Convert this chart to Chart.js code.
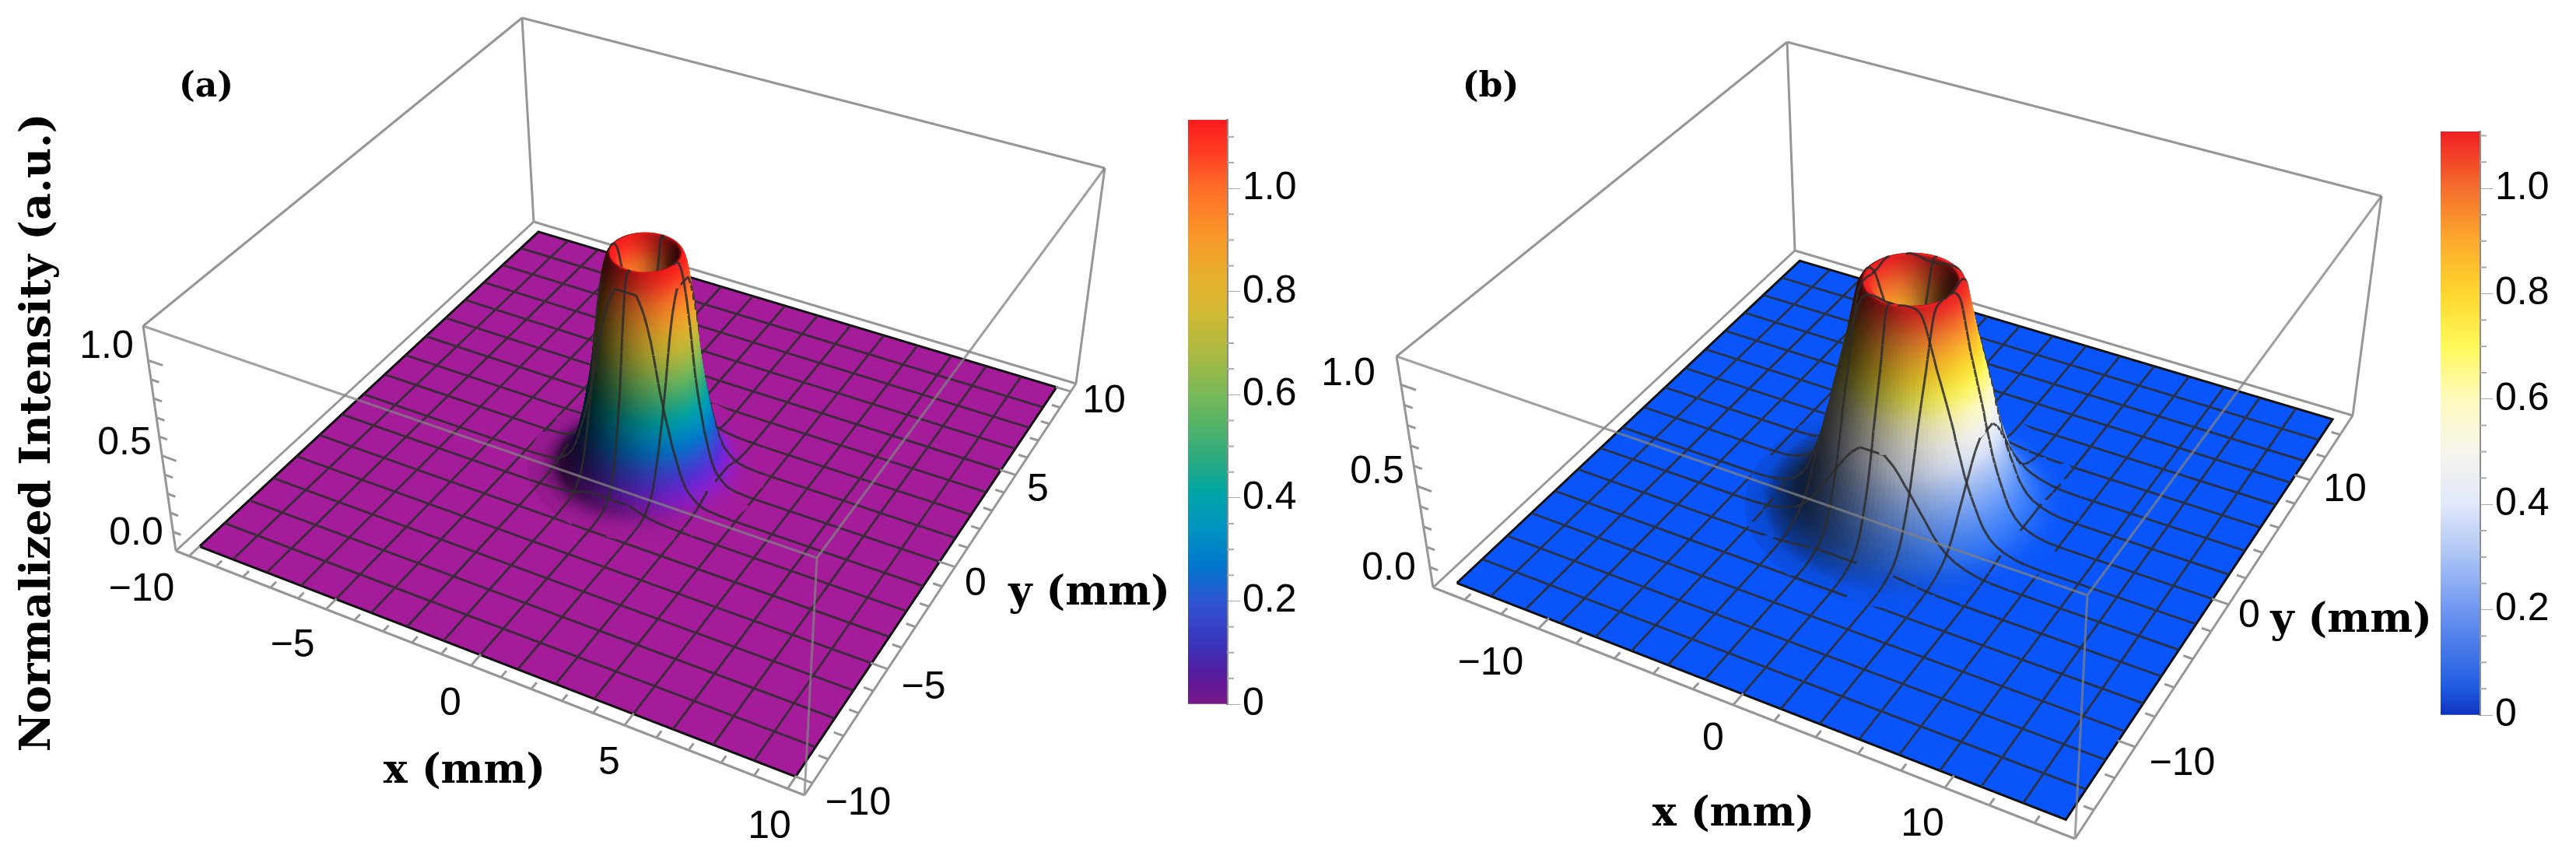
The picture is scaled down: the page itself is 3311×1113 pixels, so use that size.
<!DOCTYPE html>
<html lang="en">
<head>
<meta charset="UTF-8">
<title>Normalized intensity surfaces</title>
<script src="https://cdn.jsdelivr.net/npm/chart.js"></script>
<style>
  html, body { margin: 0; background: #fff; }
  canvas { position: absolute; }
</style>
</head>
<body>
<canvas id="surfaceA" width="1520" height="1113" style="left:0;top:0"></canvas>
<canvas id="surfaceB" width="1615" height="1113" style="left:1520px;top:0"></canvas>
<canvas id="barA" width="180" height="831" style="left:1527px;top:114px"></canvas>
<canvas id="barB" width="174" height="830" style="left:3137px;top:129px"></canvas>
<script>
// radial intensity profile (mm, a.u.)
var radiusA = [0,.3,.5,.6,.7,.8,.85,.9,.95,1,1.05,1.1,1.15,1.2,1.25,1.3,1.35,1.4,1.45,1.5,1.55,1.6,1.65,1.7,1.75,1.8,1.85,1.9,1.95,2,2.05,2.1,2.2,2.3,2.4,2.5,2.6,2.7,2.8,2.9,3.1,3.4,3.8];
var intensityA = [.8,.82,.85,.88,.93,1,1.04,1.08,1.11,1.125,1.13,1.13,1.12,1.1,1.07,1.03,.98,.93,.87,.81,.74,.67,.6,.54,.49,.44,.4,.36,.32,.28,.25,.22,.16,.115,.08,.06,.045,.03,.02,.013,.006,.002,0];
var radiusB = [0,.6,1,1.2,1.4,1.5,1.6,1.7,1.8,1.9,2,2.1,2.2,2.3,2.4,2.5,2.6,2.7,2.8,2.9,3,3.1,3.2,3.3,3.4,3.5,3.6,3.7,3.8,3.9,4,4.1,4.2,4.4,4.6,4.8,5,5.3,5.6,6,6.5,7,7.8];
var intensityB = [.72,.76,.84,.89,.95,.98,1.01,1.04,1.07,1.09,1.1,1.1,1.1,1.09,1.07,1.03,.98,.93,.88,.83,.79,.75,.71,.67,.63,.59,.55,.5,.46,.42,.38,.34,.31,.25,.2,.15,.11,.07,.045,.025,.01,.003,0];

// tick labels
var xTicksA = [-10,-5,0,5,10];
var yTicksA = [-10,-5,0,5,10];
var zTicks = [0,0.5,1];
var xTicksB = [-10,0,10];
var yTicksB = [-10,0,10];
var barTicks = [0,0.2,0.4,0.6,0.8,1];

// colour scales, [value, r, g, b]
var barColorsA = [[0,120,25,135],[.05,90,25,155],[.11,60,50,185],[.2,45,85,210],[.27,0,120,205],[.35,0,150,190],[.41,0,165,165],[.47,40,170,130],[.55,90,180,100],[.6,120,185,90],[.68,170,185,65],[.76,210,185,50],[.83,230,175,45],[.91,250,150,40],[1,255,110,40],[1.07,255,60,35],[1.13,250,30,30]];
var surfColorsA = [[0,165,28,155],[.03,150,30,190],[.07,125,35,215],[.13,80,50,215]].concat(barColorsA.slice(3));
var barColorsB = [[0,15,50,190],[.05,30,90,225],[.2,110,150,240],[.3,170,195,245],[.4,225,232,250],[.5,245,245,235],[.6,255,250,190],[.7,255,248,90],[.8,255,215,45],[.9,253,170,45],[1,245,110,45],[1.108,240,30,35]];
var surfColorsB = [[0,10,85,250],[.05,50,120,252],[.2,120,165,250]].concat(barColorsB.slice(3));

var panels = [
  { canvas:'surfaceA', left:0, width:1520, L:10.5, surf:10, cx:0, cy:0, zTop:1.18, zMm:7.4,
    floor:[[226,708],[1034,1022],[1383,493],[686,285]], top:[[184,419],[1050,717],[1420,216],[671,23]],
    radius:radiusA, intensity:intensityA, colors:surfColorsA,
    xTicks:xTicksA, yTicks:yTicksA, xMinor:1, yMinor:1,
    xAt:[[182,758],[376,830],[579,905],[783,981],[989,1063]],
    yAt:[[1103,1033],[1187,884],[1254,751],[1334,630],[1419,516]],
    zAt:[[175,686],[160,570],[137,446]],
    tag:['(a)',265,113], xTitle:[597,992], yTitle:[1400,763] },
  { canvas:'surfaceB', left:1520, width:1615, L:15.75, surf:15, cx:0, cy:0, zTop:1.14, zMm:11.3,
    floor:[[1842,755],[2667,1078],[3024,534],[2307,322]], top:[[1795,458],[2683,765],[3061,252],[2297,54]],
    radius:radiusB, intensity:intensityB, colors:surfColorsB,
    xTicks:xTicksB, yTicks:yTicksB, xMinor:2, yMinor:2,
    xAt:[[1916,853],[2202,950],[2471,1060]],
    yAt:[[2805,982],[2891,792],[3014,630]],
    zAt:[[1785,731],[1770,607],[1733,481]],
    tag:['(b)',1916,113], xTitle:[2228,1047], yTitle:[3022,798] }
];

var camera = [.38,-.71,.59];
var lightRight = [.836,.548];
var sectors = 120;
var meshCells = 16;
var meshColor = 'rgba(45,45,45,0.85)';
var meshWidth = 3;

function homography(q) {
  var dx1=q[1][0]-q[2][0], dx2=q[3][0]-q[2][0], sx=q[0][0]-q[1][0]+q[2][0]-q[3][0];
  var dy1=q[1][1]-q[2][1], dy2=q[3][1]-q[2][1], sy=q[0][1]-q[1][1]+q[2][1]-q[3][1];
  var den=dx1*dy2-dx2*dy1;
  var g=(sx*dy2-dx2*sy)/den, h=(dx1*sy-sx*dy1)/den;
  var a=q[1][0]-q[0][0]+g*q[1][0], b=q[3][0]-q[0][0]+h*q[3][0], c=q[0][0];
  var d=q[1][1]-q[0][1]+g*q[1][1], e=q[3][1]-q[0][1]+h*q[3][1], f=q[0][1];
  return function(u,v){ var w=g*u+h*v+1; return [(a*u+b*v+c)/w,(d*u+e*v+f)/w]; };
}

function colorAt(stops, z) {
  for (var i=1;i<stops.length;i++) {
    if (z<=stops[i][0]) {
      var s=stops[i-1], t=stops[i], k=(z-s[0])/(t[0]-s[0]);
      return [s[1]+(t[1]-s[1])*k, s[2]+(t[2]-s[2])*k, s[3]+(t[3]-s[3])*k];
    }
  }
  var l=stops[stops.length-1];
  return [l[1],l[2],l[3]];
}

function shaded(c, shade) {
  return 'rgb('+Math.round(c[0]*shade)+','+Math.round(c[1]*shade)+','+Math.round(c[2]*shade)+')';
}

function segments(list, project) {
  var out=[];
  list.forEach(function(seg){
    seg.forEach(function(p){ var q=project(p[0],p[1],p[2]); out.push({x:q[0],y:q[1]}); });
    out.push({x:null,y:null});
  });
  return out;
}

function buildPanel(p) {
  var H0=homography(p.floor), H1=homography(p.top), L=p.L;
  var project=function(x,y,z){
    var u=(x+L)/(2*L), v=(y+L)/(2*L), a=H0(u,v), b=H1(u,v), w=z/p.zTop;
    return [a[0]+(b[0]-a[0])*w, a[1]+(b[1]-a[1])*w];
  };
  var depth=function(x,y,z){ return x*camera[0]+y*camera[1]+z*p.zMm*camera[2]; };
  var S=p.surf, n=p.radius.length, rMax=p.radius[n-1];
  var tower=[], flat=[], towerPts=[];

  // steepness at each profile ring, from its two neighbours
  var ringSlope=p.radius.map(function(r,i){
    var a=Math.max(0,i-1), b=Math.min(n-1,i+1);
    return (p.intensity[b]-p.intensity[a])/(p.radius[b]-p.radius[a])*p.zMm*2.5;
  });
  var ringShade=function(i,am){
    var s=ringSlope[i], nh=Math.abs(s)/Math.sqrt(1+s*s);
    var cosPhi=(Math.cos(am)*lightRight[0]+Math.sin(am)*lightRight[1])*(s<0?1:-1);
    return 1-0.8*nh*Math.pow(Math.max(0,(1-cosPhi)/2),2.2);
  };

  // filled patches of the tower, one per ring and sector
  for (var i=0;i<n-1;i++) {
    var r0=p.radius[i], r1=p.radius[i+1], z0=p.intensity[i], z1=p.intensity[i+1];
    for (var j=0;j<sectors;j++) {
      var a0=j/sectors*2*Math.PI, a1=(j+1)/sectors*2*Math.PI, am=(a0+a1)/2;
      var pts=[[r0,a0,z0],[r1,a0,z1],[r1,a1,z1],[r0,a1,z0]].map(function(t){
        return project(p.cx+t[0]*Math.cos(t[1]),p.cy+t[0]*Math.sin(t[1]),t[2]);
      });
      pts.forEach(function(q){ towerPts.push({x:q[0],y:q[1]}); });
      tower.push({ pts:pts, key:depth(p.cx+(r0+r1)/2*Math.cos(am),p.cy+(r0+r1)/2*Math.sin(am),(z0+z1)/2),
        inner:shaded(colorAt(p.colors,z0),ringShade(i,am)), outer:shaded(colorAt(p.colors,z1),ringShade(i+1,am)) });
    }
  }

  // mesh lines: a vertex wherever a line crosses a profile ring
  function meshLine(axis, c) {
    var d=c-(axis==='x'?p.cx:p.cy), mid=axis==='x'?p.cy:p.cx;
    var at=function(s,z){ return axis==='x'?[c,s,z]:[s,c,z]; };
    if (Math.abs(d)>=rMax) { flat.push([at(-S,0),at(S,0)]); return; }
    var verts=[];
    for (var i=0;i<n;i++) {
      if (p.radius[i]>Math.abs(d)) {
        var t=Math.sqrt(p.radius[i]*p.radius[i]-d*d);
        verts.push(at(mid-t,p.intensity[i]));
        verts.unshift(at(mid+t,p.intensity[i]));
      }
    }
    flat.push([at(-S,0),verts[verts.length-1]]);
    flat.push([verts[0],at(S,0)]);
    for (var k=0;k<verts.length-1;k++) {
      var A=verts[k], B=verts[k+1];
      tower.push({ line:[project(A[0],A[1],A[2]),project(B[0],B[1],B[2])],
        key:depth((A[0]+B[0])/2,(A[1]+B[1])/2,(A[2]+B[2])/2)+0.25 });
    }
  }
  for (var m=1;m<meshCells;m++) {
    var c0=-S+2*S*m/meshCells;
    meshLine('x',c0); meshLine('y',c0);
  }
  tower.sort(function(a,b){ return a.key-b.key; });

  var top=p.zTop;
  var backEdges=[
    [[-L,L,0],[-L,L,top]],[[-L,-L,top],[-L,L,top]],[[-L,L,top],[L,L,top]],
    [[L,L,top],[L,L,0]],[[-L,-L,top],[-L,-L,0]],
    [[-L,-L,0],[-L,L,0]],[[-L,L,0],[L,L,0]]
  ];
  var frontEdges=[[[L,-L,0],[L,-L,top]],[[-L,-L,top],[L,-L,top]],[[L,-L,top],[L,L,top]]];
  var axisEdges=[[[-L,-L,0],[L,-L,0]],[[L,-L,0],[L,L,0]]];
  var ticks=[];
  for (var v=Math.ceil(-S/p.xMinor)*p.xMinor;v<=S;v+=p.xMinor) {
    var lenX=(p.xTicks.indexOf(v)>=0?0.05:0.028)*L;
    ticks.push([[v,-L,0],[v,-L+lenX,0]]);
  }
  for (var w=Math.ceil(-S/p.yMinor)*p.yMinor;w<=S;w+=p.yMinor) {
    var lenY=(p.yTicks.indexOf(w)>=0?0.05:0.028)*L;
    ticks.push([[L,w,0],[L-lenY,w,0]]);
  }
  for (var zt=0;zt<=10;zt++) {
    ticks.push([[-L,-L,zt/10],[-L+(zt%5===0?0.05:0.028)*L,-L,zt/10]]);
  }
  var sheet=[[-S,-S,0],[S,-S,0],[S,S,0],[-S,S,0],[-S,-S,0]];

  // Chart.js paints the last dataset first, so the list runs front to back
  var towerIndex=2;
  var towerPlugin={
    id:'tower',
    afterDatasetDraw:function(chart,args){
      if (args.index!==towerIndex) return;
      var ctx=chart.ctx, X=chart.scales.x, Y=chart.scales.y;
      var px=function(q){ return [X.getPixelForValue(q[0]),Y.getPixelForValue(q[1])]; };
      ctx.save();
      ctx.lineJoin='round';
      tower.forEach(function(t){
        if (t.line) {
          var a=px(t.line[0]), b=px(t.line[1]);
          ctx.strokeStyle=meshColor; ctx.lineWidth=meshWidth; ctx.lineCap='butt';
          ctx.beginPath(); ctx.moveTo(a[0],a[1]); ctx.lineTo(b[0],b[1]); ctx.stroke();
        } else {
          var s=t.pts.map(px);
          var g=ctx.createLinearGradient((s[0][0]+s[3][0])/2,(s[0][1]+s[3][1])/2,(s[1][0]+s[2][0])/2,(s[1][1]+s[2][1])/2);
          g.addColorStop(0,t.inner); g.addColorStop(1,t.outer);
          ctx.fillStyle=g; ctx.strokeStyle=g; ctx.lineWidth=1;
          ctx.beginPath();
          s.forEach(function(q,i){ if(i) ctx.lineTo(q[0],q[1]); else ctx.moveTo(q[0],q[1]); });
          ctx.closePath(); ctx.fill(); ctx.stroke();
        }
      });
      ctx.restore();
    },
    afterDraw:function(chart){
      var ctx=chart.ctx, X=chart.scales.x, Y=chart.scales.y;
      var text=function(s,a){ ctx.fillText(s,X.getPixelForValue(a[0]),Y.getPixelForValue(a[1])); };
      ctx.save();
      ctx.fillStyle='#000'; ctx.textAlign='center'; ctx.textBaseline='middle';
      ctx.font='50px "Liberation Sans"';
      p.xTicks.forEach(function(t,i){ text(String(t).replace('-','\u2212'),p.xAt[i]); });
      p.yTicks.forEach(function(t,i){ text(String(t).replace('-','\u2212'),p.yAt[i]); });
      zTicks.forEach(function(t,i){ text(t.toFixed(1),p.zAt[i]); });
      ctx.font='bold 44px "DejaVu Serif"';
      text(p.tag[0],[p.tag[1],p.tag[2]]);
      ctx.font='bold 52px "DejaVu Serif"';
      text('x (mm)',p.xTitle);
      text('y (mm)',p.yTitle);
      if (p.left===0) {
        ctx.translate(X.getPixelForValue(50),Y.getPixelForValue(556));
        ctx.rotate(-Math.PI/2);
        ctx.font='bold 54px "DejaVu Serif"';
        ctx.fillText('Normalized Intensity (a.u.)',0,0);
      }
      ctx.restore();
    }
  };

  var edgeStyle={showLine:true,pointRadius:0,borderColor:'rgb(150,150,150)',borderWidth:3,tension:0};
  new Chart(document.getElementById(p.canvas).getContext('2d'),{
    type:'scatter',
    data:{datasets:[
      Object.assign({label:'axes',data:segments(axisEdges.concat(ticks),project)},edgeStyle),
      Object.assign({label:'front box',data:segments(frontEdges,project)},edgeStyle,{borderColor:'rgba(130,130,130,0.75)'}),
      {label:'tower',data:towerPts,showLine:false,pointRadius:0},
      {label:'mesh',data:segments(flat,project),showLine:true,pointRadius:0,borderColor:meshColor,borderWidth:meshWidth,tension:0},
      {label:'sheet',data:segments([sheet],project),showLine:true,pointRadius:0,fill:'shape',
        backgroundColor:'rgb('+p.colors[0].slice(1).join(',')+')',borderColor:'#111',borderWidth:3,tension:0},
      Object.assign({label:'back box',data:segments(backEdges,project)},edgeStyle)
    ]},
    options:{
      responsive:false,animation:false,devicePixelRatio:1,
      layout:{padding:0},
      plugins:{legend:{display:false},tooltip:{enabled:false},title:{display:false}},
      scales:{
        x:{type:'linear',display:false,min:p.left,max:p.left+p.width},
        y:{type:'linear',display:false,min:0,max:1113,reverse:true}
      }
    },
    plugins:[towerPlugin]
  });
}
panels.forEach(buildPanel);

function buildBar(id, stops, maxValue, barWidth, pad) {
  var canvas=document.getElementById(id);
  new Chart(canvas.getContext('2d'),{
    type:'bar',
    data:{labels:['intensity'],datasets:[{
      data:[maxValue],barPercentage:1,categoryPercentage:1,
      backgroundColor:function(c){
        var area=c.chart.chartArea;
        if(!area) return 'transparent';
        var g=c.chart.ctx.createLinearGradient(0,area.bottom,0,area.top);
        stops.forEach(function(s){ g.addColorStop(Math.min(1,s[0]/maxValue),'rgb('+s[1]+','+s[2]+','+s[3]+')'); });
        return g;
      }
    }]},
    options:{
      responsive:false,animation:false,devicePixelRatio:1,
      layout:{padding:{top:pad,bottom:pad}},
      plugins:{legend:{display:false},tooltip:{enabled:false}},
      scales:{
        x:{display:false},
        y:{
          position:'right',min:0,max:maxValue,
          afterFit:function(s){ s.width=canvas.width-barWidth; },
          border:{color:'rgb(140,140,140)',width:3},
          grid:{drawOnChartArea:false,tickLength:17,
            tickColor:function(c){ return barTicks.indexOf(Math.round(c.tick.value*100)/100)>=0?'rgb(170,170,170)':'transparent'; }},
          ticks:{stepSize:0.05,autoSkip:false,includeBounds:false,padding:3,color:'#000',
            font:{family:'"Liberation Sans"',size:50},
            callback:function(v){
              var t=Math.round(v*100)/100;
              if(barTicks.indexOf(t)<0) return '';
              return t===0?'0':t.toFixed(1);
            }}
        }
      }
    },
    plugins:[{id:'minorTicks',afterDraw:function(chart){
      var s=chart.scales.y, ctx=chart.ctx;
      ctx.save(); ctx.strokeStyle='rgb(170,170,170)'; ctx.lineWidth=2;
      s.ticks.forEach(function(t){
        if(barTicks.indexOf(Math.round(t.value*100)/100)>=0) return;
        var y=s.getPixelForValue(t.value);
        ctx.beginPath(); ctx.moveTo(chart.chartArea.right,y); ctx.lineTo(chart.chartArea.right+9,y); ctx.stroke();
      });
      ctx.restore();
    }}]
  });
}
buildBar('barA',barColorsA,1.133,50,40);
buildBar('barB',barColorsB,1.108,50,40);
</script>
</body>
</html>
